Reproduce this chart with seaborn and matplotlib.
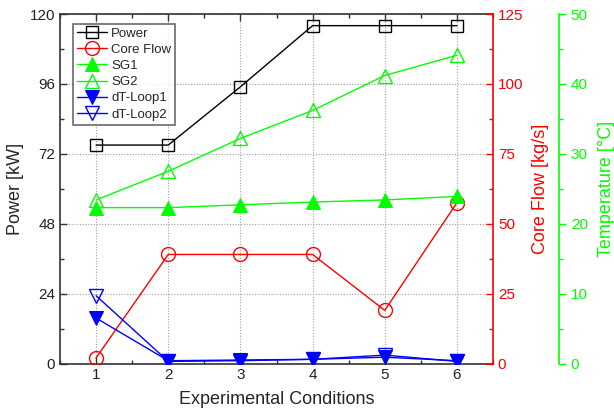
import matplotlib
matplotlib.use("Agg")
import matplotlib.pyplot as plt
from matplotlib.ticker import MultipleLocator
import seaborn as sns
import pandas as pd

# Measured data per experimental condition
conditions = [1, 2, 3, 4, 5, 6]
power_kw = [75, 75, 95, 116, 116, 116]
core_flow = [2, 39, 39, 39, 19, 57.5]
sg1_temp = [22.3, 22.3, 22.7, 23.1, 23.4, 23.9]
sg2_temp = [23.4, 27.5, 32.2, 36.2, 41.2, 44.1]
dt_loop1 = [6.5, 0.4, 0.5, 0.6, 0.9, 0.4]
dt_loop2 = [9.7, 0.3, 0.4, 0.6, 1.2, 0.3]

sns.set_style("white")
plt.rcParams["font.family"] = ["Liberation Sans", "DejaVu Sans"]

df = pd.DataFrame({
    "cond": conditions, "power": power_kw, "flow": core_flow,
    "sg1": sg1_temp, "sg2": sg2_temp, "dt1": dt_loop1, "dt2": dt_loop2,
})

fig = plt.figure(figsize=(6.14, 4.17), dpi=100)
ax = fig.add_axes([60 / 614, 1 - 363.5 / 417, 433 / 614, 349.5 / 417])
ax_flow = ax.twinx()
ax_temp = ax.twinx()

BLACK, RED, GREEN, BLUE = "#000000", "#ff0000", "#00ff00", "#0000ff"
ms = 9
lw = 1.0
TICK_FS = 11
LABEL_FS = 13

sns.lineplot(data=df, x="cond", y="power", ax=ax, color=BLACK, lw=lw,
             marker="s", ms=ms, mfc="none", mec=BLACK, mew=1.0, label="Power", legend=False)
sns.lineplot(data=df, x="cond", y="flow", ax=ax_flow, color=RED, lw=lw,
             marker="o", ms=ms + 1, mfc="none", mec=RED, mew=1.0, label="Core Flow", legend=False)
sns.lineplot(data=df, x="cond", y="sg1", ax=ax_temp, color=GREEN, lw=lw,
             marker="^", ms=ms + 1, mfc=GREEN, mec=GREEN, label="SG1", legend=False)
sns.lineplot(data=df, x="cond", y="sg2", ax=ax_temp, color=GREEN, lw=lw,
             marker="^", ms=ms + 1, mfc="none", mec=GREEN, mew=1.0, label="SG2", legend=False)
sns.lineplot(data=df, x="cond", y="dt1", ax=ax_temp, color=BLUE, lw=lw,
             marker="v", ms=ms + 1, mfc=BLUE, mec=BLUE, label="dT-Loop1", legend=False)
sns.lineplot(data=df, x="cond", y="dt2", ax=ax_temp, color=BLUE, lw=lw,
             marker="v", ms=ms + 1, mfc="none", mec=BLUE, mew=1.0, label="dT-Loop2", legend=False)

# Host axis: power
ax.set_xlim(0.5, 6.5)
ax.set_ylim(0, 120)
ax.xaxis.set_major_locator(MultipleLocator(1))
ax.xaxis.set_minor_locator(MultipleLocator(0.5))
ax.yaxis.set_major_locator(MultipleLocator(24))
ax.yaxis.set_minor_locator(MultipleLocator(12))
ax.grid(True, which="major", color="#a0a0a0", ls=(0, (1, 1.5)), lw=0.8)
ax.tick_params(which="both", direction="in", top=True, bottom=True, left=True,
               right=False, labelsize=TICK_FS, colors="#333333", labelcolor="#222222")
ax.tick_params(which="major", length=5, width=1)
ax.tick_params(which="minor", length=3, width=1)
ax.set_xlabel("Experimental Conditions", fontsize=LABEL_FS, labelpad=6)
ax.set_ylabel("Power [kW]", fontsize=LABEL_FS, labelpad=4)
for side in ["left", "bottom", "top"]:
    ax.spines[side].set_color("#333333")
    ax.spines[side].set_linewidth(1.2)
ax.spines["right"].set_visible(False)

# Core flow axis
ax_flow.set_ylim(0, 125)
ax_flow.yaxis.set_major_locator(MultipleLocator(25))
ax_flow.yaxis.set_minor_locator(MultipleLocator(12.5))
ax_flow.tick_params(axis="y", which="both", direction="in", colors=RED, labelsize=TICK_FS, width=1)
ax_flow.tick_params(axis="y", which="major", length=5)
ax_flow.tick_params(axis="y", which="minor", length=3)
ax_flow.set_ylabel("Core Flow [kg/s]", color=RED, fontsize=LABEL_FS, labelpad=6)
ax_flow.spines["right"].set_color(RED)
ax_flow.spines["right"].set_linewidth(1.2)
for side in ["left", "top", "bottom"]:
    ax_flow.spines[side].set_visible(False)

# Temperature axis
ax_temp.set_ylim(0, 50)
ax_temp.spines["right"].set_position(("axes", (559 - 60) / 433))
ax_temp.yaxis.set_major_locator(MultipleLocator(10))
ax_temp.yaxis.set_minor_locator(MultipleLocator(5))
ax_temp.tick_params(axis="y", which="both", direction="out", colors=GREEN, labelsize=TICK_FS, width=1)
ax_temp.tick_params(axis="y", which="major", length=5)
ax_temp.tick_params(axis="y", which="minor", length=3)
ax_temp.set_ylabel("Temperature [°C]", color=GREEN, fontsize=LABEL_FS, labelpad=7)
ax_temp.spines["right"].set_color(GREEN)
ax_temp.spines["right"].set_linewidth(1.2)
for side in ["left", "top", "bottom"]:
    ax_temp.spines[side].set_visible(False)
for a in (ax_flow, ax_temp):
    a.set_xlabel("")

handles = []
labels = []
for a in (ax, ax_flow, ax_temp):
    h, l = a.get_legend_handles_labels()
    handles += h
    labels += l
leg = ax_temp.legend(handles, labels, loc="upper left",
                     bbox_to_anchor=(13 / 433, 1 - 9.5 / 349.5), borderaxespad=0,
                     fontsize=9.5, frameon=True, fancybox=False, handlelength=2.3,
                     handletextpad=0.3, labelspacing=0.3, borderpad=0.3)
leg.get_frame().set_edgecolor("#444444")
leg.get_frame().set_linewidth(1.2)

fig.savefig("out.png", dpi=100)
